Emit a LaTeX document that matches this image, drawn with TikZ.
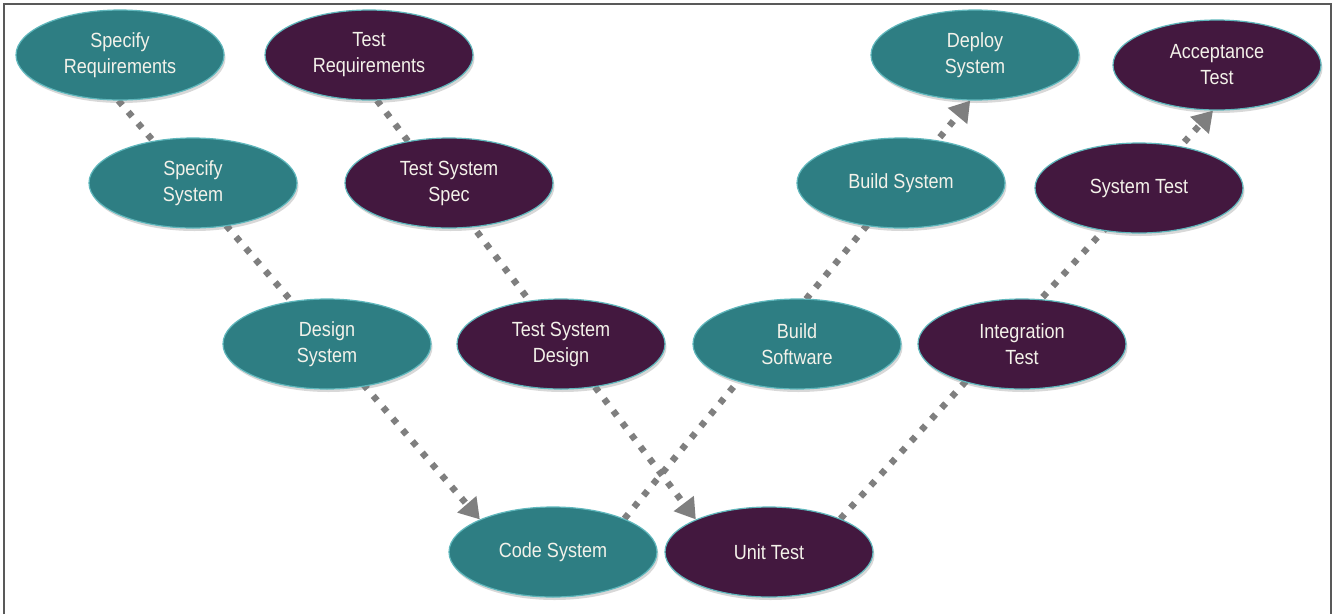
\documentclass[tikz,border=0pt]{standalone}
\usepackage{fontspec}
\setmainfont{Liberation Sans}[FakeStretch=0.88]
\usetikzlibrary{arrows.meta,shadows,shapes.geometric}
\pgfdeclarelayer{paper}
\pgfdeclarelayer{background}
\pgfsetlayers{paper,background,main}
\definecolor{tealfill}{HTML}{2E7E83}
\definecolor{plumfill}{HTML}{43183F}
\definecolor{rimcol}{HTML}{5FB7BC}
\definecolor{flowgray}{HTML}{7F7F7F}
\definecolor{labelcol}{HTML}{F4F2EA}
\tikzset{
  stage/.style={ellipse, minimum width=208pt, minimum height=90pt, inner sep=0pt,
    draw=rimcol, line width=1.2pt, text=labelcol, align=center,
    font=\fontsize{20.5}{26}\selectfont,
    drop shadow={opacity=0.3, shadow xshift=1.5pt, shadow yshift=-3pt}},
  buildstage/.style={stage, fill=tealfill},
  teststage/.style={stage, fill=plumfill},
  flow/.style={draw=flowgray, line width=6.5pt, dash pattern=on 6pt off 9pt,
    -{Triangle[length=20pt,width=24pt,fill=flowgray]}},
}
\begin{document}
\begin{tikzpicture}[x=1pt,y=-1pt]
\useasboundingbox (0,0) rectangle (1335,614);
\begin{pgfonlayer}{paper}
  \fill[white] (0,0) rectangle (1335,614);
  \draw[line width=2pt, color=black!65] (4,614) -- (4,4) -- (1331,4) -- (1331,614);
\end{pgfonlayer}

% left branch: specification and design
\node[buildstage] (sr)  at (120,55)   {Specify\\Requirements};
\node[teststage]  (tr)  at (369,55)   {Test\\Requirements};
\node[buildstage] (ss)  at (193,183)  {Specify\\System};
\node[teststage]  (tss) at (449,183)  {Test System\\Spec};
\node[buildstage] (ds)  at (327,344)  {Design\\System};
\node[teststage]  (tsd) at (561,344)  {Test System\\Design};
% bottom
\node[buildstage] (cs)  at (553,552)  {Code System};
\node[teststage]  (ut)  at (769,552)  {Unit Test};
% right branch: build and test
\node[buildstage] (bsw) at (797,344)  {Build\\Software};
\node[teststage]  (it)  at (1022,344) {Integration\\Test};
\node[buildstage] (bs)  at (901,183)  {Build System};
\node[teststage]  (st)  at (1139,188) {System Test};
\node[buildstage] (dep) at (975,55)   {Deploy\\System};
\node[teststage]  (acc) at (1217,65)  {Acceptance\\Test};

\begin{pgfonlayer}{background}
  \draw[flow] (sr.268) -- (cs.156);
  \draw[flow] (tr.-80) -- (ut.156);
  \draw[flow] (cs.25)  -- (dep.-96);
  \draw[flow] (ut.25)  -- (acc.-95);
\end{pgfonlayer}
\end{tikzpicture}
\end{document}
